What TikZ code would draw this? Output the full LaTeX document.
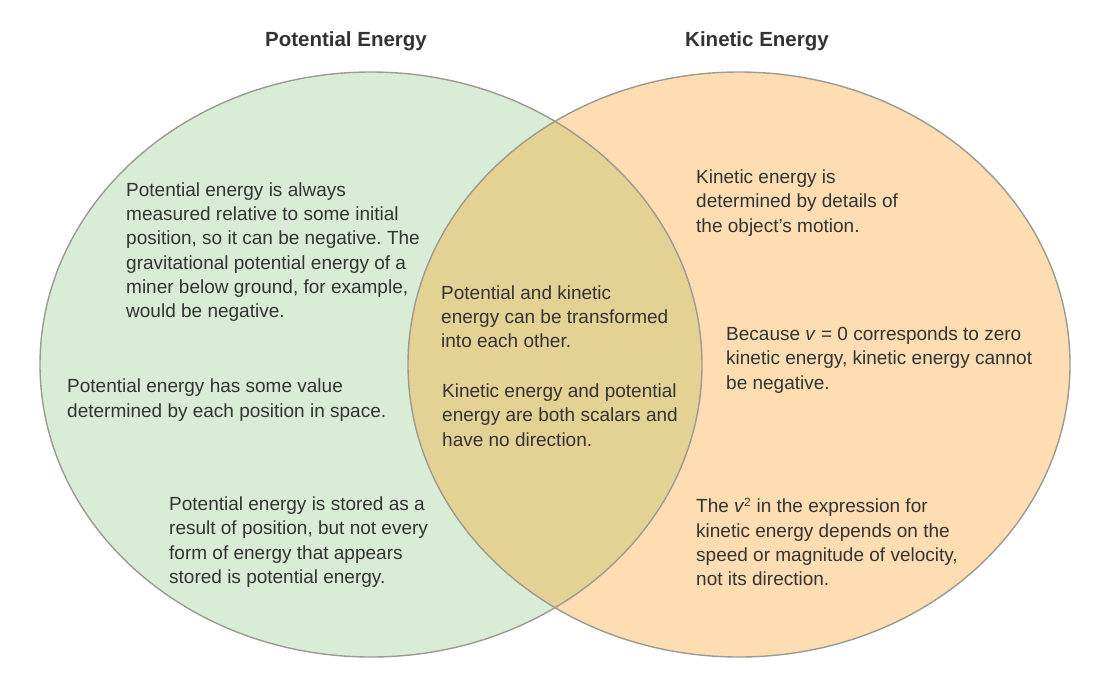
\documentclass[tikz,border=0pt]{standalone}
\usepackage{fontspec}
\setmainfont{Liberation Sans}
\frenchspacing
\definecolor{greenfill}{HTML}{D9EDD6}
\definecolor{orangefill}{HTML}{FDDDB1}
\definecolor{lensfill}{HTML}{E3D293}
\definecolor{edge}{HTML}{9C9A92}
\definecolor{txt}{HTML}{333333}
\begin{document}
\begin{tikzpicture}[x=1pt,y=-1pt,
  body/.style={anchor=west, align=left, inner sep=0pt, text=txt, font=\fontsize{19}{24.2}\selectfont\frenchspacing},
  heading/.style={text=txt, inner sep=0pt, font=\fontsize{20.5}{24}\selectfont\bfseries},
  outline/.style={draw=edge, line width=1.4pt}]
\useasboundingbox (0,0) rectangle (1116,681);
% circles
\fill[greenfill] (371,364.5) ellipse [x radius=331, y radius=292.5];
\fill[orangefill] (739,364.5) ellipse [x radius=331, y radius=292.5];
\begin{scope}
  \clip (371,364.5) ellipse [x radius=331, y radius=292.5];
  \fill[lensfill] (739,364.5) ellipse [x radius=331, y radius=292.5];
\end{scope}
\draw[outline] (371,364.5) ellipse [x radius=331, y radius=292.5];
\draw[outline] (739,364.5) ellipse [x radius=331, y radius=292.5];
% titles
\node[heading] (tpe) at (346,41) {Potential Energy};
\node[heading] (tke) at (757,41) {Kinetic Energy};
% left texts
\node[body] (l1) at (126,252) {Potential energy is always\\measured relative to some initial\\position, so it can be negative. The\\gravitational potential energy of a\\miner below ground, for example,\\would be negative.};
\node[body] (l2) at (67,400) {Potential energy has some value\\determined by each position in space.};
\node[body] (l3) at (169,542) {Potential energy is stored as a\\result of position, but not every\\form of energy that appears\\stored is potential energy.};
% middle texts
\node[body] (m1) at (441,317) {Potential and kinetic\\energy can be transformed\\into each other.};
\node[body] (m2) at (442,415) {Kinetic energy and potential\\energy are both scalars and\\have no direction.};
% right texts
\node[body] (r1) at (696,203) {Kinetic energy is\\determined by details of\\the object’s motion.};
\node[body] (r2) at (726,360) {Because \textit{v} = 0 corresponds to zero\\kinetic energy, kinetic energy cannot\\be negative.};
\node[body] (r3) at (696,542) {The \textit{v}\kern-0.5pt\textsuperscript{\fontsize{12}{12}\selectfont 2} in the expression for\\kinetic energy depends on the\\speed or magnitude of velocity,\\not its direction.};
\end{tikzpicture}
\end{document}
